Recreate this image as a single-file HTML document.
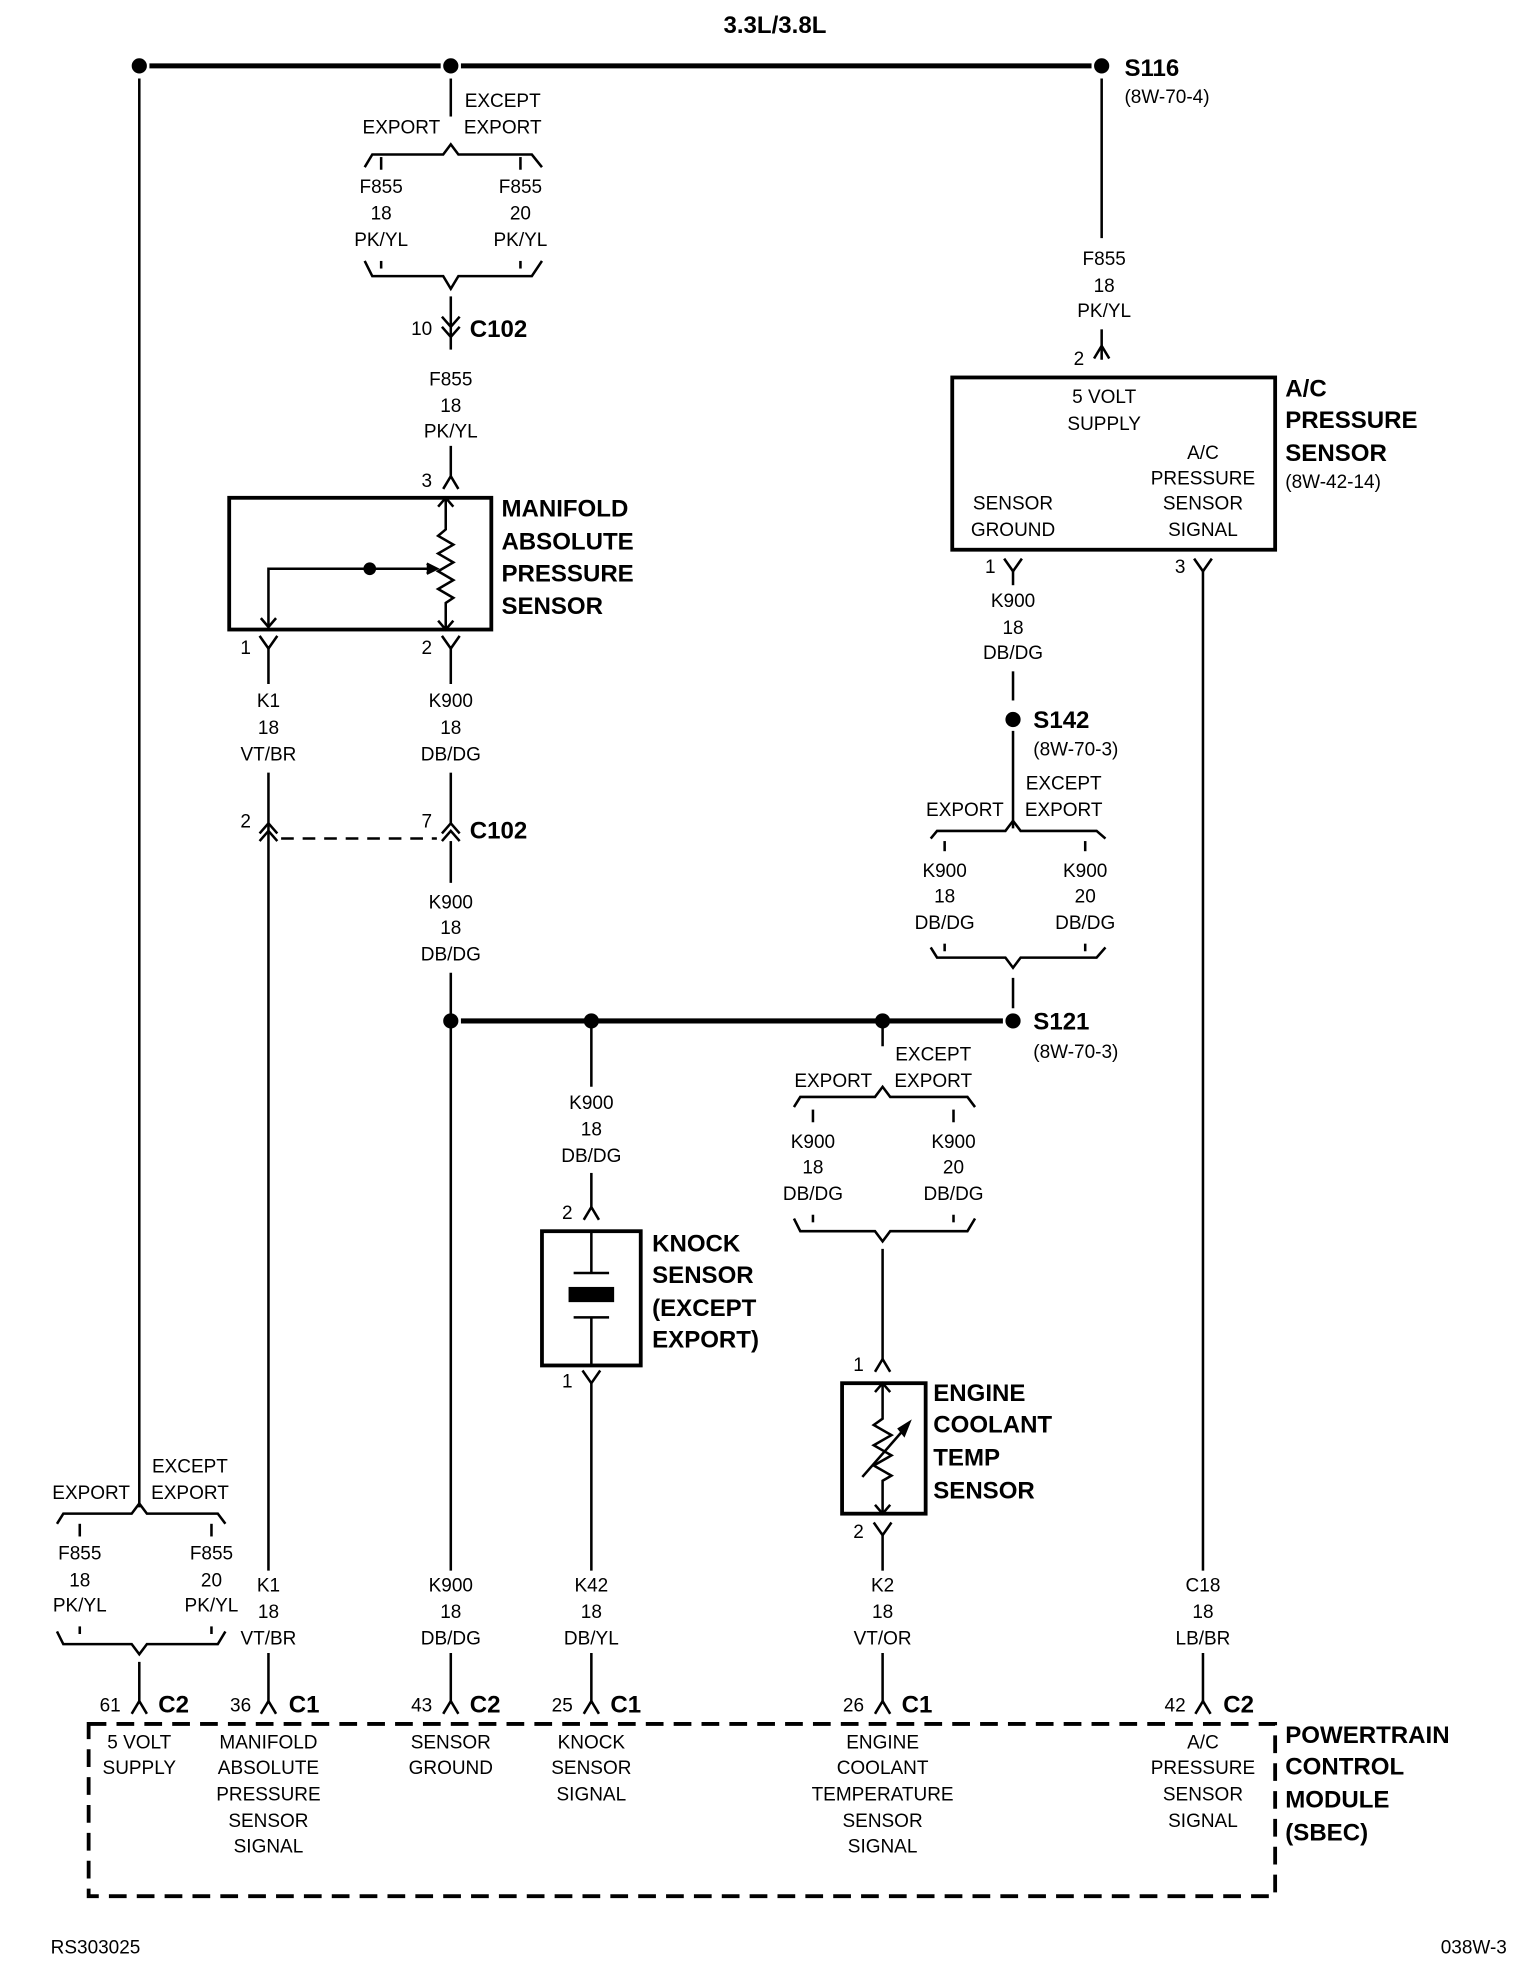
<!DOCTYPE html>
<html><head><meta charset="utf-8"><style>
html,body{margin:0;padding:0;background:#fff;}
svg{display:block;}
text{font-family:"Liberation Sans Narrow","Liberation Sans",sans-serif;fill:#000;}
.t{font-size:15px;text-anchor:middle;dominant-baseline:central;}
.l{font-size:15px;dominant-baseline:central;}
.b{font-size:19px;font-weight:bold;dominant-baseline:central;}
</style></head><body>
<svg width="1536" height="1976" viewBox="0 0 1213 1560" preserveAspectRatio="none" xmlns="http://www.w3.org/2000/svg">
<defs>
<path id="up" d="M-6,6 L0,-4 L6,6" fill="none" stroke="#000" stroke-width="2"/>
<path id="dn" d="M-7,-6 L0,4 L7,-6" fill="none" stroke="#000" stroke-width="2"/>
</defs>
<g stroke="#000" stroke-width="2" fill="none">
<line x1="118" y1="52" x2="348" y2="52" stroke-width="4"/>
<line x1="364" y1="52" x2="862" y2="52" stroke-width="4"/>
<line x1="110" y1="62" x2="110" y2="1190"/>
<line x1="356" y1="62" x2="356" y2="92"/>
<path d="M288,132 L294,122 L350,122 L356,114 L362,122 L420,122 L428,132"/>
<line x1="301" y1="124" x2="301" y2="134"/><line x1="411" y1="124" x2="411" y2="134"/>
<line x1="301" y1="206" x2="301" y2="212"/><line x1="411" y1="206" x2="411" y2="212"/>
<path d="M288,206 L294,218 L350,218 L356,228 L362,218 L420,218 L428,206"/>
<line x1="356" y1="234" x2="356" y2="276"/>
<path d="M349,250 L356,258 L363,250 M349,258 L356,266 L363,258"/>
<line x1="356" y1="352" x2="356" y2="378"/>
<rect x="181" y="393" width="207" height="104" stroke-width="3"/>
<path d="M352,393 L352,418 L346,423 L358,430 L346,437 L358,444 L346,451 L358,458 L346,465 L358,472 L352,476 L352,497"/>
<path d="M346,400 L352,393 L358,400 M346,490 L352,497 L358,490"/>
<path d="M212,495 L212,449 L344,449"/>
<path d="M337,445 L345,449 L337,453" fill="#000"/>
<path d="M206,488 L212,495 L218,488"/>
<line x1="212" y1="510" x2="212" y2="540"/>
<line x1="356" y1="510" x2="356" y2="540"/>
<line x1="212" y1="610" x2="212" y2="1240"/>
<line x1="356" y1="610" x2="356" y2="650"/>
<path d="M205,658 L212,650 L219,658 M205,664 L212,656 L219,664"/>
<path d="M349,658 L356,650 L363,658 M349,664 L356,656 L363,664"/>
<line x1="222" y1="662" x2="345" y2="662" stroke-dasharray="10,7"/>
<line x1="356" y1="664" x2="356" y2="697"/>
<line x1="356" y1="768" x2="356" y2="1240"/>
<line x1="364" y1="806" x2="792" y2="806" stroke-width="4"/>
<line x1="467" y1="806" x2="467" y2="858"/>
<line x1="467" y1="926" x2="467" y2="955"/>
<rect x="428" y="972" width="78" height="106" stroke-width="3"/>
<line x1="467" y1="972" x2="467" y2="1005"/>
<line x1="453" y1="1005" x2="481" y2="1005"/>
<rect x="449" y="1016" width="36" height="12" fill="#000" stroke="none"/>
<line x1="453" y1="1040" x2="481" y2="1040"/>
<line x1="467" y1="1040" x2="467" y2="1078"/>
<line x1="467" y1="1092" x2="467" y2="1240"/>
<line x1="697" y1="806" x2="697" y2="826"/>
<path d="M627,874 L632,866 L691,866 L697,858 L703,866 L764,866 L770,874"/>
<line x1="642" y1="876" x2="642" y2="886"/><line x1="753" y1="876" x2="753" y2="886"/>
<line x1="642" y1="959" x2="642" y2="965"/><line x1="753" y1="959" x2="753" y2="965"/>
<path d="M627,962 L632,972 L691,972 L697,980 L703,972 L764,972 L770,962"/>
<line x1="697" y1="986" x2="697" y2="1074"/>
<rect x="665" y="1092" width="66" height="103" stroke-width="3"/>
<path d="M697,1092 L697,1120 L690,1125 L704,1133 L690,1141 L704,1149 L690,1157 L704,1165 L697,1169 L697,1195"/>
<path d="M691,1099 L697,1092 L703,1099 M691,1188 L697,1195 L703,1188"/>
<line x1="681" y1="1166" x2="716" y2="1126"/>
<path d="M710,1128 L718,1123 L714,1133 Z" fill="#000"/>
<line x1="697" y1="1210" x2="697" y2="1240"/>
<line x1="870" y1="62" x2="870" y2="188"/>
<line x1="870" y1="260" x2="870" y2="284"/>
<rect x="752" y="298" width="255" height="136" stroke-width="3"/>
<line x1="800" y1="450" x2="800" y2="462"/>
<line x1="800" y1="530" x2="800" y2="553"/>
<line x1="800" y1="577" x2="800" y2="654"/>
<path d="M735,662 L740,656 L794,656 L800,648 L806,656 L866,656 L873,662"/>
<line x1="746" y1="664" x2="746" y2="672"/><line x1="857" y1="664" x2="857" y2="672"/>
<line x1="746" y1="745" x2="746" y2="751"/><line x1="857" y1="745" x2="857" y2="751"/>
<path d="M735,748 L740,756 L794,756 L800,764 L806,756 L866,756 L873,748"/>
<line x1="800" y1="772" x2="800" y2="796"/>
<line x1="950" y1="450" x2="950" y2="1240"/>
<path d="M45,1203 L50,1195 L104,1195 L110,1187 L116,1195 L172,1195 L178,1203"/>
<line x1="63" y1="1203" x2="63" y2="1213"/><line x1="167" y1="1203" x2="167" y2="1213"/>
<line x1="63" y1="1284" x2="63" y2="1290"/><line x1="167" y1="1284" x2="167" y2="1290"/>
<path d="M45,1288 L50,1298 L104,1298 L110,1306 L116,1298 L172,1298 L178,1288"/>
<line x1="110" y1="1312" x2="110" y2="1345"/>
<line x1="212" y1="1305" x2="212" y2="1345"/>
<line x1="356" y1="1305" x2="356" y2="1345"/>
<line x1="467" y1="1305" x2="467" y2="1345"/>
<line x1="697" y1="1305" x2="697" y2="1345"/>
<line x1="950" y1="1305" x2="950" y2="1345"/>
<rect x="70" y="1361" width="937" height="136" stroke-width="3" stroke-dasharray="14,8"/>
</g>
<use href="#up" x="356" y="380"/>
<use href="#up" x="870" y="277"/>
<use href="#up" x="467" y="957"/>
<use href="#up" x="697" y="1077"/>
<use href="#dn" x="212" y="508"/>
<use href="#dn" x="356" y="508"/>
<use href="#dn" x="800" y="447"/>
<use href="#dn" x="950" y="447"/>
<use href="#dn" x="467" y="1088"/>
<use href="#dn" x="697" y="1208"/>
<use href="#up" x="110" y="1347"/>
<use href="#up" x="212" y="1347"/>
<use href="#up" x="356" y="1347"/>
<use href="#up" x="467" y="1347"/>
<use href="#up" x="697" y="1347"/>
<use href="#up" x="950" y="1347"/>
<g fill="#000">
<circle cx="110" cy="52" r="6"/><circle cx="356" cy="52" r="6"/><circle cx="870" cy="52" r="6"/>
<circle cx="292" cy="449" r="5"/>
<circle cx="800" cy="568" r="6"/>
<circle cx="356" cy="806" r="6"/><circle cx="467" cy="806" r="6"/><circle cx="697" cy="806" r="6"/><circle cx="800" cy="806" r="6"/>
</g>
<text class="b" x="612" y="20" text-anchor="middle">3.3L/3.8L</text>
<text class="b" x="888" y="54">S116</text>
<text class="l" x="888" y="77">(8W-70-4)</text>
<text class="t" x="397" y="80">EXCEPT</text><text class="t" x="397" y="101">EXPORT</text><text class="t" x="317" y="101">EXPORT</text>
<text class="t" x="301" y="148">F855</text><text class="t" x="301" y="169">18</text><text class="t" x="301" y="190">PK/YL</text>
<text class="t" x="411" y="148">F855</text><text class="t" x="411" y="169">20</text><text class="t" x="411" y="190">PK/YL</text>
<text class="t" x="333" y="260">10</text><text class="b" x="371" y="260">C102</text>
<text class="t" x="356" y="300">F855</text><text class="t" x="356" y="321">18</text><text class="t" x="356" y="341">PK/YL</text>
<text class="t" x="337" y="380">3</text>
<text class="b" x="396" y="402">MANIFOLD</text><text class="b" x="396" y="428">ABSOLUTE</text><text class="b" x="396" y="453">PRESSURE</text><text class="b" x="396" y="479">SENSOR</text>
<text class="t" x="194" y="512">1</text><text class="t" x="337" y="512">2</text>
<text class="t" x="212" y="554">K1</text><text class="t" x="212" y="575">18</text><text class="t" x="212" y="596">VT/BR</text>
<text class="t" x="356" y="554">K900</text><text class="t" x="356" y="575">18</text><text class="t" x="356" y="596">DB/DG</text>
<text class="t" x="194" y="649">2</text><text class="t" x="337" y="649">7</text><text class="b" x="371" y="656">C102</text>
<text class="t" x="356" y="713">K900</text><text class="t" x="356" y="733">18</text><text class="t" x="356" y="754">DB/DG</text>
<text class="b" x="816" y="807">S121</text><text class="l" x="816" y="831">(8W-70-3)</text>
<text class="t" x="467" y="871">K900</text><text class="t" x="467" y="892">18</text><text class="t" x="467" y="913">DB/DG</text>
<text class="t" x="448" y="958">2</text><text class="t" x="448" y="1091">1</text>
<text class="b" x="515" y="982">KNOCK</text><text class="b" x="515" y="1007">SENSOR</text><text class="b" x="515" y="1033">(EXCEPT</text><text class="b" x="515" y="1058">EXPORT)</text>
<text class="t" x="737" y="833">EXCEPT</text><text class="t" x="737" y="854">EXPORT</text><text class="t" x="658" y="854">EXPORT</text>
<text class="t" x="642" y="902">K900</text><text class="t" x="642" y="922">18</text><text class="t" x="642" y="943">DB/DG</text>
<text class="t" x="753" y="902">K900</text><text class="t" x="753" y="922">20</text><text class="t" x="753" y="943">DB/DG</text>
<text class="t" x="678" y="1078">1</text><text class="t" x="678" y="1210">2</text>
<text class="b" x="737" y="1100">ENGINE</text><text class="b" x="737" y="1125">COOLANT</text><text class="b" x="737" y="1151">TEMP</text><text class="b" x="737" y="1177">SENSOR</text>
<text class="t" x="872" y="205">F855</text><text class="t" x="872" y="226">18</text><text class="t" x="872" y="246">PK/YL</text>
<text class="t" x="852" y="284">2</text>
<text class="t" x="872" y="314">5 VOLT</text><text class="t" x="872" y="335">SUPPLY</text>
<text class="t" x="950" y="358">A/C</text><text class="t" x="950" y="378">PRESSURE</text><text class="t" x="950" y="398">SENSOR</text><text class="t" x="950" y="419">SIGNAL</text>
<text class="t" x="800" y="398">SENSOR</text><text class="t" x="800" y="419">GROUND</text>
<text class="b" x="1015" y="307">A/C</text><text class="b" x="1015" y="332">PRESSURE</text><text class="b" x="1015" y="358">SENSOR</text>
<text class="l" x="1015" y="381">(8W-42-14)</text>
<text class="t" x="782" y="448">1</text><text class="t" x="932" y="448">3</text>
<text class="t" x="800" y="475">K900</text><text class="t" x="800" y="496">18</text><text class="t" x="800" y="516">DB/DG</text>
<text class="b" x="816" y="569">S142</text><text class="l" x="816" y="592">(8W-70-3)</text>
<text class="t" x="840" y="619">EXCEPT</text><text class="t" x="840" y="640">EXPORT</text><text class="t" x="762" y="640">EXPORT</text>
<text class="t" x="746" y="688">K900</text><text class="t" x="746" y="708">18</text><text class="t" x="746" y="729">DB/DG</text>
<text class="t" x="857" y="688">K900</text><text class="t" x="857" y="708">20</text><text class="t" x="857" y="729">DB/DG</text>
<text class="t" x="150" y="1158">EXCEPT</text><text class="t" x="150" y="1179">EXPORT</text><text class="t" x="72" y="1179">EXPORT</text>
<text class="t" x="63" y="1227">F855</text><text class="t" x="63" y="1248">18</text><text class="t" x="63" y="1268">PK/YL</text>
<text class="t" x="167" y="1227">F855</text><text class="t" x="167" y="1248">20</text><text class="t" x="167" y="1268">PK/YL</text>
<text class="t" x="212" y="1252">K1</text><text class="t" x="212" y="1273">18</text><text class="t" x="212" y="1294">VT/BR</text>
<text class="t" x="356" y="1252">K900</text><text class="t" x="356" y="1273">18</text><text class="t" x="356" y="1294">DB/DG</text>
<text class="t" x="467" y="1252">K42</text><text class="t" x="467" y="1273">18</text><text class="t" x="467" y="1294">DB/YL</text>
<text class="t" x="697" y="1252">K2</text><text class="t" x="697" y="1273">18</text><text class="t" x="697" y="1294">VT/OR</text>
<text class="t" x="950" y="1252">C18</text><text class="t" x="950" y="1273">18</text><text class="t" x="950" y="1294">LB/BR</text>
<text class="t" x="87" y="1347">61</text><text class="b" x="125" y="1346">C2</text>
<text class="t" x="190" y="1347">36</text><text class="b" x="228" y="1346">C1</text>
<text class="t" x="333" y="1347">43</text><text class="b" x="371" y="1346">C2</text>
<text class="t" x="444" y="1347">25</text><text class="b" x="482" y="1346">C1</text>
<text class="t" x="674" y="1347">26</text><text class="b" x="712" y="1346">C1</text>
<text class="t" x="928" y="1347">42</text><text class="b" x="966" y="1346">C2</text>
<text class="t" x="110" y="1376">5 VOLT</text><text class="t" x="110" y="1396">SUPPLY</text>
<text class="t" x="212" y="1376">MANIFOLD</text><text class="t" x="212" y="1396">ABSOLUTE</text><text class="t" x="212" y="1417">PRESSURE</text><text class="t" x="212" y="1438">SENSOR</text><text class="t" x="212" y="1458">SIGNAL</text>
<text class="t" x="356" y="1376">SENSOR</text><text class="t" x="356" y="1396">GROUND</text>
<text class="t" x="467" y="1376">KNOCK</text><text class="t" x="467" y="1396">SENSOR</text><text class="t" x="467" y="1417">SIGNAL</text>
<text class="t" x="697" y="1376">ENGINE</text><text class="t" x="697" y="1396">COOLANT</text><text class="t" x="697" y="1417">TEMPERATURE</text><text class="t" x="697" y="1438">SENSOR</text><text class="t" x="697" y="1458">SIGNAL</text>
<text class="t" x="950" y="1376">A/C</text><text class="t" x="950" y="1396">PRESSURE</text><text class="t" x="950" y="1417">SENSOR</text><text class="t" x="950" y="1438">SIGNAL</text>
<text class="b" x="1015" y="1370">POWERTRAIN</text><text class="b" x="1015" y="1395">CONTROL</text><text class="b" x="1015" y="1421">MODULE</text><text class="b" x="1015" y="1447">(SBEC)</text>
<text class="l" x="40" y="1538">RS303025</text>
<text class="l" x="1190" y="1538" text-anchor="end">038W-3</text>
</svg>
</body></html>
